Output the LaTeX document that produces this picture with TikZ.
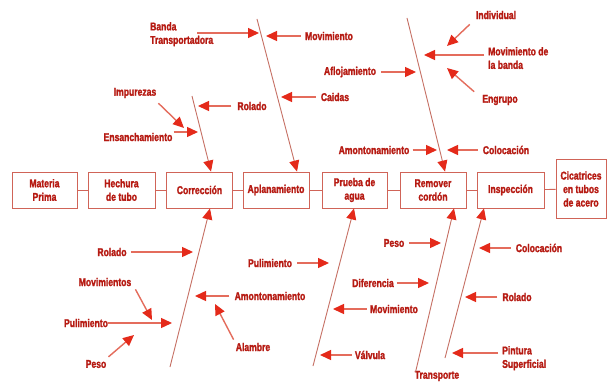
\documentclass[tikz,border=0pt]{standalone}
\usepackage{fontspec}
\setmainfont{Liberation Sans}[FakeStretch=0.76,BoldFeatures={FakeBold=1.6}]
\usetikzlibrary{arrows.meta}
\definecolor{txtred}{RGB}{182,26,18}
\definecolor{tipred}{RGB}{228,42,26}
\definecolor{shaftred}{RGB}{228,108,92}
\definecolor{boneline}{RGB}{198,112,100}
\definecolor{boxline}{RGB}{208,100,88}

\begin{document}
\begin{tikzpicture}[x=1pt,y=-1pt,
  lbl/.style={text=txtred,font=\fontsize{11.3}{13.5}\selectfont\bfseries,inner sep=0pt,align=center},
  lblL/.style={lbl,align=left},
  stage/.style={draw=boxline,line width=0.9pt,text=txtred,
    font=\fontsize{11.3}{13.5}\selectfont\bfseries,align=center,
    inner sep=1pt,minimum height=36pt},
  bone/.style={draw=boneline,line width=0.9pt,
    -{Triangle[length=11pt,width=10pt,color=tipred]}},
  cause/.style={draw=shaftred,line width=1.4pt,
    -{Triangle[length=11pt,width=10pt,color=tipred]}},
  link/.style={draw=boxline,line width=0.9pt}
]
\fill[white] (0,0) rectangle (610,385);
\useasboundingbox (0,0) rectangle (610,385);

% process stages
\node[stage,minimum width=65pt] (mp) at (44.5,190) {Materia\\Prima};
\node[stage,minimum width=67pt] (ht) at (121.5,190) {Hechura\\de tubo};
\node[stage,minimum width=66pt] (co) at (199.5,190) {Corrección};
\node[stage,minimum width=66pt] (ap) at (276,190) {Aplanamiento};
\node[stage,minimum width=65pt] (pa) at (354.5,190) {Prueba de\\agua};
\node[stage,minimum width=66pt] (rc) at (433,190) {Remover\\cordón};
\node[stage,minimum width=67pt] (in) at (510.5,190) {Inspección};
\node[stage,minimum width=50pt,minimum height=59pt] (ci) at (581,189) {Cicatrices\\en tubos\\de acero};

\draw[link] (mp) -- (ht);
\draw[link] (ht) -- (co);
\draw[link] (co) -- (ap);
\draw[link] (ap) -- (pa);
\draw[link] (pa) -- (rc);
\draw[link] (rc) -- (in);
\draw[link] (in) -- (ci);

% main bones
\coordinate (b1s) at (192,96);
\coordinate (b2s) at (257,19);
\coordinate (b3s) at (407,18);
\coordinate (b4s) at (170,367);
\coordinate (b5s) at (313,366);
\coordinate (b7s) at (445,358);
\node[lbl] (transp) at (437,376) {Transporte};

\draw[bone] (b1s) -- ([xshift=11.5pt]co.north);
\draw[bone] (b2s) -- ([xshift=21pt]ap.north);
\draw[bone] (b3s) -- ([xshift=12pt]rc.north);
\draw[bone] (b4s) -- ([xshift=10.5pt]co.south);
\draw[bone] (b5s) -- ([xshift=-0.5pt]pa.south);
\draw[bone] ([shift={(1pt,-1pt)}]transp.north west) -- ([xshift=21pt]rc.south);
\draw[bone] (b7s) -- ([xshift=-26.5pt]in.south);

% causes, upper left
\node[lblL,anchor=north west] (banda) at (150,22) {Banda\\Transportadora};
\coordinate (bandaT) at (197,33);
\node[lbl] (movA) at (329,36) {Movimiento};
\node[lbl] (caidas) at (335,97) {Caidas};
\node[lbl] (rolA) at (252,106) {Rolado};
\node[lbl] (impur) at (135,93) {Impurezas};
\node[lbl] (ensan) at (138,137) {Ensanchamiento};

\coordinate (tBanda) at (259,33);
\coordinate (tMovA) at (266,36);
\coordinate (tCaidas) at (281,97);
\coordinate (tRolA) at (198,106);
\coordinate (tImpur) at (184,128);
\coordinate (tEnsan) at (198,132);

\draw[cause] (bandaT) -- (tBanda);
\draw[cause] ([xshift=-4pt]movA.west) -- (tMovA);
\draw[cause] ([xshift=-5pt]caidas.west) -- (tCaidas);
\draw[cause] ([xshift=-6pt]rolA.west) -- (tRolA);
\draw[cause] ([shift={(2pt,-5pt)}]impur.south east) -- (tImpur);
\draw[cause] ([shift={(1pt,5pt)}]ensan.east) -- (tEnsan);

% causes, upper right
\node[lbl] (aflo) at (350,72) {Aflojamiento};
\node[lbl] (indiv) at (496,15) {Individual};
\node[lblL,anchor=north west] (movB) at (488,47) {Movimiento de\\la banda};
\node[lbl] (engr) at (500,100) {Engrupo};
\node[lbl] (amonA) at (374,150) {Amontonamiento};
\node[lbl] (colA) at (506,150) {Colocación};

\coordinate (tAflo) at (416,72);
\coordinate (tIndiv) at (447,46);
\coordinate (tMovB) at (424,55);
\coordinate (tEngr) at (447,68);
\coordinate (tAmonA) at (437,150);
\coordinate (tColA) at (447,150);

\draw[cause] ([xshift=5pt]aflo.east) -- (tAflo);
\draw[cause] ([shift={(-6pt,-5pt)}]indiv.south west) -- (tIndiv);
\draw[cause] ([shift={(-4pt,-8pt)}]movB.north west) -- (tMovB);
\draw[cause] ([shift={(-8pt,3pt)}]engr.north west) -- (tEngr);
\draw[cause] ([xshift=3pt]amonA.east) -- (tAmonA);
\draw[cause] ([xshift=-5pt]colA.west) -- (tColA);

% causes, lower left
\node[lbl] (rolB) at (112,252) {Rolado};
\node[lbl] (movs) at (105,282) {Movimientos};
\node[lbl] (puliA) at (86,323) {Pulimiento};
\node[lbl] (pesoA) at (96,364) {Peso};
\node[lbl] (amonB) at (270,296) {Amontonamiento};
\node[lbl] (alam) at (253,347) {Alambre};
\node[lbl] (puliB) at (270,263) {Pulimiento};

\coordinate (tRolB) at (193,252);
\coordinate (tMovs) at (152,320);
\coordinate (tPuliA) at (172,323);
\coordinate (tPesoA) at (134,335);
\coordinate (tAmonB) at (195,296);
\coordinate (tAlam) at (215,304);
\coordinate (tPuliB) at (329,263);

\draw[cause] ([xshift=4pt]rolB.east) -- (tRolB);
\draw[cause] ([shift={(4pt,-3pt)}]movs.south east) -- (tMovs);
\draw[cause] (puliA.east) -- (tPuliA);
\draw[cause] ([shift={(2pt,3pt)}]pesoA.north east) -- (tPesoA);
\draw[cause] ([xshift=-5pt]amonB.west) -- (tAmonB);
\draw[cause] ([shift={(-2pt,3pt)}]alam.north west) -- (tAlam);
\draw[cause] ([xshift=5pt]puliB.east) -- (tPuliB);

% causes, lower middle
\node[lbl] (pesoB) at (394,243) {Peso};
\node[lbl] (dife) at (373,283) {Diferencia};
\node[lbl] (movC) at (394,309) {Movimiento};
\node[lbl] (valv) at (370,355) {Válvula};

\coordinate (tPesoB) at (441,243);
\coordinate (tDife) at (429,283);
\coordinate (tMovC) at (333,309);
\coordinate (tValv) at (320,355);

\draw[cause] ([xshift=5pt]pesoB.east) -- (tPesoB);
\draw[cause] ([xshift=3pt]dife.east) -- (tDife);
\draw[cause] ([xshift=-3pt]movC.west) -- (tMovC);
\draw[cause] ([xshift=-3pt]valv.west) -- (tValv);

% causes, lower right
\node[lbl] (colB) at (539,248) {Colocación};
\node[lbl] (rolC) at (517,297) {Rolado};
\node[lblL,anchor=north west] (pint) at (502,346) {Pintura\\Superficial};

\coordinate (tColB) at (479,248);
\coordinate (tRolC) at (465,297);
\coordinate (tPint) at (452,353);

\draw[cause] ([xshift=-5pt]colB.west) -- (tColB);
\draw[cause] ([xshift=-5pt]rolC.west) -- (tRolC);
\draw[cause] ([shift={(-4pt,-7pt)}]pint.north west) -- (tPint);
\end{tikzpicture}
\end{document}
